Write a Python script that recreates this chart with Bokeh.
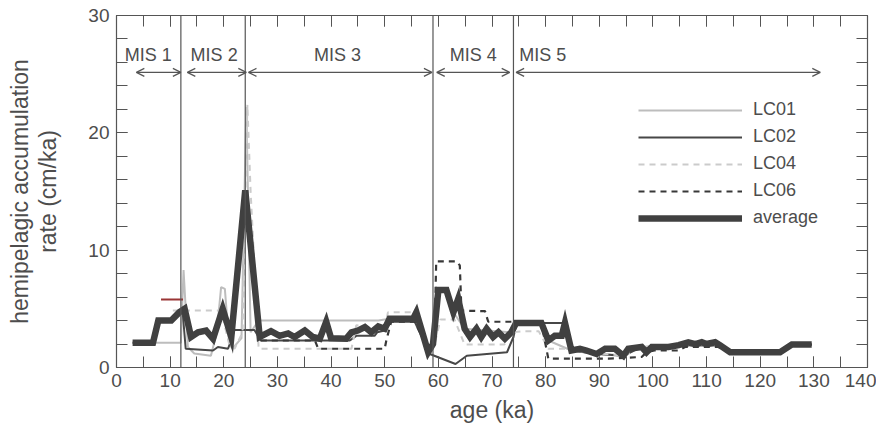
from bokeh.plotting import figure
from bokeh.models import (ColumnDataSource, LinearAxis, SingleIntervalTicker, Range1d,
                          Legend, LegendItem, Arrow, OpenHead, Span, CustomJSTickFormatter)
from bokeh.core.properties import value
from bokeh.embed import file_html
from bokeh.resources import INLINE

# ---------------- data ----------------
avg_age = [3.0, 6.8, 7.8, 10.2, 11.7, 12.7, 13.9, 15.2, 16.7, 18.0, 19.8, 21.4, 24.0, 26.7,
           28.8, 30.4, 32.0, 33.2, 35.1, 36.6, 37.9, 39.1, 40.0, 42.8, 43.8, 45.0, 46.3, 47.5,
           48.8, 50.0, 50.9, 55.3, 55.9, 58.1, 59.0, 60.0, 61.5, 62.8, 63.7, 64.9, 65.9, 67.1,
           68.0, 69.0, 70.2, 71.2, 72.4, 73.6, 74.5, 79.2, 80.5, 81.7, 83.0, 83.6, 84.8, 86.4,
           87.6, 89.5, 91.1, 92.9, 94.5, 95.4, 97.9, 98.8, 99.8, 102.9, 104.8, 106.6, 107.9,
           109.1, 110.0, 111.6, 112.5, 114.4, 123.7, 125.9, 129.6]
avg_val = [2.1, 2.1, 4.0, 4.0, 4.7, 5.0, 2.6, 3.0, 3.15, 2.45, 5.0, 2.6, 15.1, 2.6,
           3.1, 2.7, 2.9, 2.6, 3.15, 2.6, 2.45, 3.9, 2.5, 2.45, 3.0, 3.15, 3.45, 3.0,
           3.5, 3.3, 4.15, 4.15, 4.7, 1.3, 2.0, 6.6, 6.6, 4.7, 5.85, 3.3, 2.6, 3.3,
           2.6, 3.3, 2.6, 3.0, 2.45, 3.0, 3.8, 3.8, 2.3, 2.7, 2.7, 3.8, 1.45, 1.6,
           1.45, 1.15, 1.6, 1.6, 1.0, 1.6, 1.75, 1.3, 1.75, 1.75, 1.9, 2.15, 2.0,
           2.15, 2.0, 2.15, 1.9, 1.3, 1.3, 1.95, 1.95]

lc01_age = [3.0, 12.0, 12.5, 13.3, 14.5, 17.6, 18.7, 19.5, 20.2, 21.0, 21.6, 23.3, 24.2, 25.0,
            26.5, 48.8, 50.9, 55.3, 55.9, 58.1, 59.0, 60.0, 61.5, 62.8, 64.9, 73.6, 74.5,
            79.2, 80.5, 84.8, 94.5, 97.9, 112.5, 114.4, 123.7, 125.9, 129.6]
lc01_val = [2.1, 2.1, 8.3, 1.75, 1.2, 1.0, 3.0, 6.85, 6.7, 2.0, 1.6, 2.5, 22.2, 3.0,
            4.0, 4.0, 4.15, 4.15, 4.7, 1.3, 2.0, 6.6, 6.6, 4.7, 3.3, 3.0, 3.8,
            3.8, 2.3, 1.45, 1.0, 1.75, 1.9, 1.3, 1.3, 1.95, 1.95]

lc02_age = [3.0, 6.8, 7.8, 10.2, 11.7, 12.3, 12.9, 18.0, 18.9, 20.8, 22.0, 25.7, 26.9, 43.5,
            44.7, 48.1, 48.6, 50.0, 51.2, 55.6, 58.4, 63.2, 65.3, 72.8, 74.0, 74.6, 83.6,
            84.8, 89.5, 94.5, 97.9, 112.5, 114.4, 123.7, 125.9, 129.6]
lc02_val = [2.1, 2.1, 4.0, 4.0, 4.7, 4.9, 1.6, 1.45, 1.75, 1.6, 3.2, 3.2, 2.3, 2.3,
            2.7, 2.7, 3.0, 3.15, 3.9, 3.9, 1.15, 0.3, 1.0, 1.3, 2.6, 3.8, 3.8,
            1.45, 1.15, 1.0, 1.75, 1.9, 1.3, 1.3, 1.95, 1.95]

lc04_age = [10.5, 19.5, 21.0, 22.0, 23.5, 24.4, 25.0, 26.5, 43.8, 44.7, 50.0, 50.6, 55.8,
            58.0, 59.3, 60.4, 63.0, 64.9, 72.3, 73.6, 76.0, 78.7, 80.5, 84.0, 84.8, 94.5,
            97.9, 112.5, 114.4, 123.7, 125.9, 129.6]
lc04_val = [4.85, 4.85, 2.0, 1.6, 3.0, 22.4, 15.0, 1.6, 1.6, 3.6, 3.3, 4.7, 4.7,
            1.3, 2.0, 4.1, 4.1, 1.95, 1.95, 3.0, 3.1, 3.1, 1.6, 1.6, 1.45, 1.0,
            1.75, 1.9, 1.3, 1.3, 1.95, 1.95]

lc06_age = [26.9, 37.0, 37.6, 50.0, 50.3, 51.2, 55.6, 58.4, 59.3, 59.6, 63.4, 64.0, 64.3,
            68.7, 69.3, 74.0, 79.2, 80.5, 91.7, 97.9, 98.8, 100.3, 104.8, 106.0, 112.2,
            114.4, 123.7, 125.9, 129.6]
lc06_val = [2.3, 2.3, 1.6, 1.6, 2.3, 3.9, 3.9, 1.3, 3.0, 9.05, 9.05, 8.7, 4.85,
            4.8, 3.9, 3.9, 3.8, 0.75, 0.75, 0.9, 1.3, 1.45, 1.45, 1.75, 1.75,
            1.3, 1.3, 1.95, 1.95]

red_age = [8.3, 12.4]
red_val = [5.8, 5.8]

mis_bounds = [12, 24, 59, 74]
mis_labels = ["MIS 1", "MIS 2", "MIS 3", "MIS 4", "MIS 5"]
mis_label_x = [5.9, 18.2, 41.2, 66.5, 75.1]
mis_arrow_start = [3.7, 13.2, 24.6, 59.7, 74.5]
mis_arrow_end = [12.0, 24.2, 58.8, 73.3, 131.2]

x_ticks_interval = 10
y_ticks_interval = 10

# ---------------- styling ----------------
FONT = "Liberation Sans"
TXT = "#4d4d4d"
AX = "#555555"

p = figure(width=876, height=430, x_range=Range1d(0, 140), y_range=Range1d(0, 30),
           output_backend="svg", toolbar_location=None,
           min_border_left=116, min_border_right=9, min_border_top=15, min_border_bottom=63,
           x_axis_label="age (ka)",
           y_axis_label="hemipelagic accumulation\nrate (cm/ka)")
p.grid.visible = False
p.outline_line_color = None
p.background_fill_color = "white"
p.border_fill_color = "white"

def style_axis(ax, ticker, labels=True):
    ax.ticker = ticker
    ax.axis_line_color = AX
    ax.axis_line_width = 1.2
    ax.major_tick_line_color = AX
    ax.minor_tick_line_color = AX
    ax.major_tick_in = 11
    ax.major_tick_out = 0
    ax.minor_tick_in = 11
    ax.minor_tick_out = 0
    if labels:
        ax.major_label_text_font = FONT
        ax.major_label_text_font_size = "19px"
        ax.major_label_text_color = TXT
        ax.axis_label_text_font = FONT
        ax.axis_label_text_font_size = "23px"
        ax.axis_label_text_font_style = "normal"
        ax.axis_label_text_color = TXT
    else:
        ax.formatter = CustomJSTickFormatter(code="return ''")
        ax.major_label_standoff = 0

style_axis(p.xaxis[0], SingleIntervalTicker(interval=x_ticks_interval, num_minor_ticks=2))
p.xaxis[0].major_label_standoff = 6
p.xaxis[0].axis_label_standoff = 7
style_axis(p.yaxis[0], SingleIntervalTicker(interval=y_ticks_interval, num_minor_ticks=5))
p.yaxis[0].major_label_standoff = 7
p.yaxis[0].axis_label_standoff = 24
p.yaxis[0].axis_label_text_line_height = 1.08

top = LinearAxis()
style_axis(top, SingleIntervalTicker(interval=x_ticks_interval, num_minor_ticks=2), labels=False)
right = LinearAxis()
style_axis(right, SingleIntervalTicker(interval=y_ticks_interval, num_minor_ticks=5), labels=False)
p.add_layout(top, "above")
p.add_layout(right, "right")

# MIS boundaries
for b in mis_bounds:
    p.add_layout(Span(location=b, dimension="height", line_color=AX, line_width=1.2))

# series
r01 = p.line(lc01_age, lc01_val, line_color="#bdbdbd", line_width=2)
r02 = p.line(lc02_age, lc02_val, line_color="#474747", line_width=2)
r04 = p.line(lc04_age, lc04_val, line_color="#cbcbcb", line_width=2, line_dash="6 5")
r06 = p.line(lc06_age, lc06_val, line_color="#383838", line_width=2.2, line_dash="6 5")
ravg = p.line(avg_age, avg_val, line_color="#404040", line_width=6.5, line_join="miter")
p.line(red_age, red_val, line_color="#9a3535", line_width=2)

# MIS labels and arrows
arrow_y = [25.15] * len(mis_labels)
label_y = [26.6] * len(mis_labels)
src = ColumnDataSource(dict(x0=mis_arrow_start, x1=mis_arrow_end, y=arrow_y))
p.add_layout(Arrow(start=OpenHead(size=8, line_color=AX, line_width=1.2),
                   end=OpenHead(size=8, line_color=AX, line_width=1.2),
                   x_start="x0", x_end="x1", y_start="y", y_end="y",
                   line_color=AX, line_width=1.2, source=src))
p.text(x=mis_label_x[:4], y=label_y[:4], text=mis_labels[:4], text_font=value(FONT),
       text_font_size=value("18px"), text_color=TXT, text_align="center",
       text_baseline="middle")
p.text(x=mis_label_x[4:], y=label_y[4:], text=mis_labels[4:], text_font=value(FONT),
       text_font_size=value("18px"), text_color=TXT, text_align="left",
       text_baseline="middle")

legend = Legend(items=[LegendItem(label="LC01", renderers=[r01]),
                       LegendItem(label="LC02", renderers=[r02]),
                       LegendItem(label="LC04", renderers=[r04]),
                       LegendItem(label="LC06", renderers=[r06]),
                       LegendItem(label="average", renderers=[ravg])],
                location=(522, 139), border_line_color=None, background_fill_alpha=0,
                padding=0, margin=0, spacing=6, glyph_width=104, glyph_height=20,
                label_height=20, label_standoff=11,
                label_text_font=FONT, label_text_font_size="18px", label_text_color=TXT)
p.add_layout(legend)

open("out.html", "w").write(file_html(p, INLINE))
